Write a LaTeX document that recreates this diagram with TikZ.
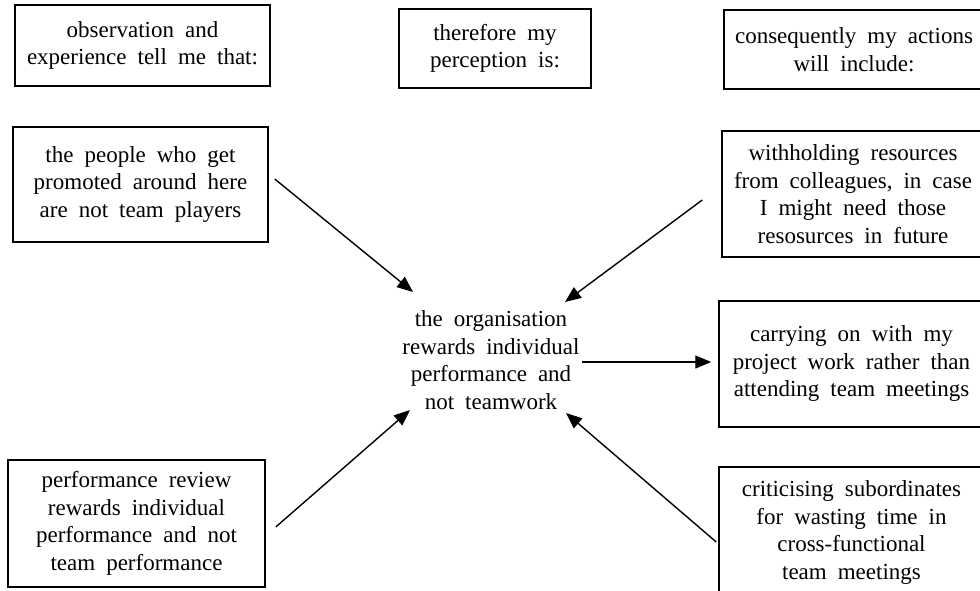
\documentclass[tikz,border=0pt]{standalone}
\usepackage{fontspec}
\setmainfont{Liberation Serif}
\usetikzlibrary{arrows.meta,calc}
\newcommand\boxfont{\fontsize{23}{27.5}\selectfont\spaceskip=11pt plus 2pt minus 1pt\relax}
\tikzset{
  txt/.style={align=center, inner sep=0pt, font=\boxfont},
  box/.style={txt, draw, line width=1.5pt},
  arr/.style={line width=1.4pt, -{Triangle[length=16pt,width=13pt]}}
}
\begin{document}
\begin{tikzpicture}[x=1pt,y=-1pt]
\useasboundingbox (0,0) rectangle (980,591);
\clip (0,0) rectangle (980,591);
% header boxes
\node[box, minimum width=255pt, minimum height=81pt] (b1) at (142.5,45.5)
  {observation and\\experience tell me that:};
\node[box, minimum width=192pt, minimum height=79pt] (b2) at (495,48.5)
  {therefore my\\perception is:};
\node[box, minimum width=260pt, minimum height=79pt] (b3) at (854,49.5)
  {consequently my actions\\will include:};
% left boxes
\node[box, minimum width=255pt, minimum height=115pt] (b4) at (140.5,184.5)
  {the people who get\\promoted around here\\are not team players};
\node[box, minimum width=257pt, minimum height=127pt] (b7) at (136.5,523.5)
  {performance review\\rewards individual\\performance and not\\team performance};
% right boxes
\node[box, minimum width=262pt, minimum height=126pt] (b5) at (853,194)
  {withholding resources\\from colleagues, in case\\I might need those\\resosurces in future};
\node[box, minimum width=265pt, minimum height=126pt] (b6) at (851.5,364)
  {carrying on with my\\project work rather than\\attending team meetings};
\node[box, minimum width=265pt, minimum height=131pt] (b8) at (851.5,532.5)
  {criticising subordinates\\for wasting time in\\cross-functional\\team meetings};
% centre
\node[txt] (c) at (491,360)
  {the organisation\\rewards individual\\performance and\\not teamwork};
\coordinate (ctl) at ($(c.center)+(-78,-68)$);
\coordinate (ctr) at ($(c.center)+(74,-58)$);
\coordinate (cbl) at ($(c.center)+(-81,50)$);
\coordinate (cbr) at ($(c.center)+(75,53)$);
\coordinate (cr) at ($(c.center)+(91,2)$);
% arrows
\draw[arr] ([shift={(6,-5.5)}]b4.east) -- (ctl);
\draw[arr] ([shift={(-19,6)}]b5.west) -- (ctr);
\draw[arr] ([shift={(10,3.5)}]b7.east) -- (cbl);
\draw[arr] ([shift={(-2,9.5)}]b8.west) -- (cbr);
\draw[arr] (cr) -- ([shift={(-7,-2)}]b6.west);
\end{tikzpicture}
\end{document}
